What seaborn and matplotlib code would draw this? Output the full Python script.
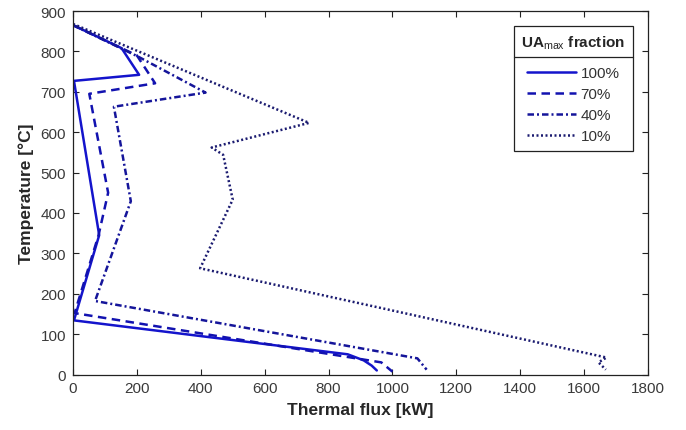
import matplotlib
matplotlib.use("Agg")
import matplotlib.pyplot as plt
import seaborn as sns
import pandas as pd
from matplotlib.lines import Line2D

# ---- data ----
series_labels = ["100%", "70%", "40%", "10%"]

flux_100 = [0, 152, 207, 3, 82, 3, 860, 910, 935, 951]
temp_100 = [865, 808, 742, 727, 345, 134, 50, 35, 22, 10]

flux_70 = [0, 200, 257, 51, 110, 80, 5, 965, 1000]
temp_70 = [865, 790, 721, 695, 450, 345, 152, 30, 7]

flux_40 = [0, 204, 415, 128, 181, 69, 1078, 1107]
temp_40 = [865, 787, 698, 663, 429, 182, 40, 12]

flux_10 = [0, 739, 434, 470, 500, 398, 1670, 1645, 1668]
temp_10 = [868, 623, 562, 544, 433, 263, 42, 30, 12]

x_ticks = [0, 200, 400, 600, 800, 1000, 1200, 1400, 1600, 1800]
y_ticks = [0, 100, 200, 300, 400, 500, 600, 700, 800, 900]

frames = []
for lab, fx, ty in zip(series_labels,
                       [flux_100, flux_70, flux_40, flux_10],
                       [temp_100, temp_70, temp_40, temp_10]):
    frames.append(pd.DataFrame({"flux": fx, "temp": ty, "frac": lab}))
df = pd.concat(frames, ignore_index=True)

# ---- style ----
sns.set_theme(style="ticks")
plt.rcParams["font.family"] = ["Liberation Sans", "DejaVu Sans"]
plt.rcParams["mathtext.fontset"] = "custom"
plt.rcParams["mathtext.rm"] = "Liberation Sans"
plt.rcParams["mathtext.bf"] = "Liberation Sans:bold"
plt.rcParams["mathtext.it"] = "Liberation Sans:italic"

palette = {"100%": "#1414cc", "70%": "#1212b0", "40%": "#15159a", "10%": "#1b1b70"}
dashes = {"100%": "", "70%": (3.4, 2.2), "40%": (2.6, 1.2, 0.8, 1.2), "10%": (0.8, 1.0)}

fig = plt.figure(figsize=(6.86, 4.31), dpi=100)
ax = fig.add_axes([73 / 686, 1 - 375.5 / 431, (648 - 73) / 686, (375.5 - 12) / 431])

sns.lineplot(data=df, x="flux", y="temp", hue="frac", style="frac",
             hue_order=series_labels, style_order=series_labels,
             palette=palette, dashes=dashes, sort=False, estimator=None,
             units="frac", linewidth=1.8, ax=ax, legend="full")

ax.set_xlim(0, 1800)
ax.set_ylim(0, 900)
ax.set_xticks(x_ticks)
ax.set_yticks(y_ticks)
ax.tick_params(direction="in", top=True, right=True, length=4, width=0.8,
               labelsize=11, labelcolor="#3a3a3a", color="#222222", pad=5)
for s in ax.spines.values():
    s.set_color("#222222")
    s.set_linewidth(0.9)

ax.set_xlabel("Thermal flux [kW]", fontsize=12.5, fontweight="bold", color="#262626", labelpad=5)
ax.set_ylabel("Temperature [°C]", fontsize=12.5, fontweight="bold", color="#262626", labelpad=5)

handles, labels = ax.get_legend_handles_labels()
leg = ax.legend(handles, labels,
                title=r"$\mathbf{UA}_{\mathrm{max}}$ fraction",
                title_fontproperties={"weight": "bold", "size": 11},
                fontsize=11, loc="upper right",
                bbox_to_anchor=((633 - 73) / 575, (375.5 - 27) / 363.5),
                borderaxespad=0, fancybox=False, framealpha=1,
                edgecolor="#222222", handlelength=3.2, handletextpad=0.3,
                labelspacing=0.45, borderpad=0.5)
leg.get_frame().set_linewidth(0.9)
leg._legend_box.sep = leg._legend_box.sep + 6
for t in leg.get_texts():
    t.set_color("#333333")

# separator line under the legend title
fig.canvas.draw()
fb = leg.get_frame().get_window_extent()
tb = leg.get_title().get_window_extent()
ysep = tb.y0 - 6
inv = fig.transFigure.inverted()
(x0f, yf), (x1f, _) = inv.transform([(fb.x0, ysep), (fb.x1, ysep)])
fig.add_artist(Line2D([x0f, x1f], [yf, yf], transform=fig.transFigure,
                      color="#222222", linewidth=0.9))

fig.savefig("out.png", dpi=100)
